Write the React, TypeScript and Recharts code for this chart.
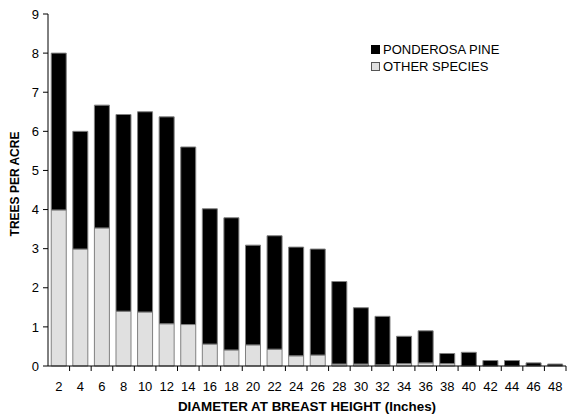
import { Bar, BarChart, XAxis, YAxis } from 'recharts';

const diameters = ['2', '4', '6', '8', '10', '12', '14', '16', '18', '20', '22', '24', '26', '28', '30', '32', '34', '36', '38', '40', '42', '44', '46', '48'];
const totalTrees = [8.0, 6.0, 6.67, 6.43, 6.5, 6.37, 5.6, 4.02, 3.79, 3.09, 3.33, 3.04, 2.99, 2.16, 1.49, 1.27, 0.76, 0.9, 0.32, 0.35, 0.14, 0.14, 0.08, 0.05];
const otherSpecies = [3.99, 2.99, 3.53, 1.4, 1.38, 1.08, 1.06, 0.56, 0.41, 0.54, 0.43, 0.26, 0.28, 0.05, 0.05, 0.03, 0.06, 0.08, 0.06, 0, 0, 0, 0, 0];
const yTicks = [0, 1, 2, 3, 4, 5, 6, 7, 8, 9];

const FONT = '"Liberation Sans", Arial, sans-serif';
const BAND = (567 - 48 - 1) / diameters.length;

const data = diameters.map((d, i) => ({
  d,
  other: otherSpecies[i],
  pine: Math.round((totalTrees[i] - otherSpecies[i]) * 100) / 100,
}));

function XTick({ x, y, payload }: any) {
  return (
    <g>
      <line x1={x + BAND / 2} x2={x + BAND / 2} y1={y} y2={y + 5} stroke="#000" strokeWidth={1} />
      <text x={x} y={y + 25} textAnchor="middle" fontSize={13} fontFamily={FONT} fill="#000">
        {payload.value}
      </text>
    </g>
  );
}

function XLabel() {
  return (
    <text x={307} y={411} textAnchor="middle" fontFamily={FONT} fontSize={13.4} fontWeight="bold" fill="#000">
      DIAMETER AT BREAST HEIGHT (Inches)
    </text>
  );
}

function YLabel() {
  return (
    <text
      x={15}
      y={184}
      transform="rotate(-90, 15, 184)"
      textAnchor="middle"
      dominantBaseline="central"
      fontFamily={FONT}
      fontSize={12}
      fontWeight="bold"
      fill="#000"
    >
      TREES PER ACRE
    </text>
  );
}

function LegendBox() {
  return (
    <div
      style={{
        position: 'absolute',
        left: 371,
        top: 41,
        fontFamily: FONT,
        fontSize: 13,
        color: '#000',
        lineHeight: '17px',
      }}
    >
      <div style={{ display: 'flex', alignItems: 'center' }}>
        <span style={{ width: 7, height: 7, background: '#000', border: '1px solid #000', marginRight: 3 }} />
        PONDEROSA PINE
      </div>
      <div style={{ display: 'flex', alignItems: 'center' }}>
        <span style={{ width: 7, height: 7, background: '#e0e0e0', border: '1px solid #555', marginRight: 3 }} />
        OTHER SPECIES
      </div>
    </div>
  );
}

export default function App() {
  return (
    <div style={{ width: 567, height: 414, position: 'relative' }}>
      <style>{'body{margin:0}'}</style>
      <BarChart
        width={567}
        height={414}
        data={data}
        margin={{ top: 14, right: 1, bottom: 0, left: 0 }}
        barCategoryGap="15%"
      >
        <XAxis
          dataKey="d"
          height={48}
          tickSize={0}
          tickMargin={0}
          interval={0}
          tick={<XTick />}
          axisLine={{ stroke: '#000' }}
          label={<XLabel />}
        />
        <YAxis
          width={48}
          domain={[0, 9]}
          ticks={yTicks}
          interval={0}
          tickSize={5}
          tickMargin={4}
          axisLine={{ stroke: '#000' }}
          tickLine={{ stroke: '#000' }}
          tick={{ fontFamily: FONT, fontSize: 13, fill: '#000' }}
          label={<YLabel />}
        />
        <Bar dataKey="other" stackId="a" fill="#e0e0e0" stroke="#808080" strokeWidth={1} isAnimationActive={false} />
        <Bar dataKey="pine" stackId="a" fill="#000" stroke="#808080" strokeWidth={1} isAnimationActive={false} />
      </BarChart>
      <LegendBox />
    </div>
  );
}
